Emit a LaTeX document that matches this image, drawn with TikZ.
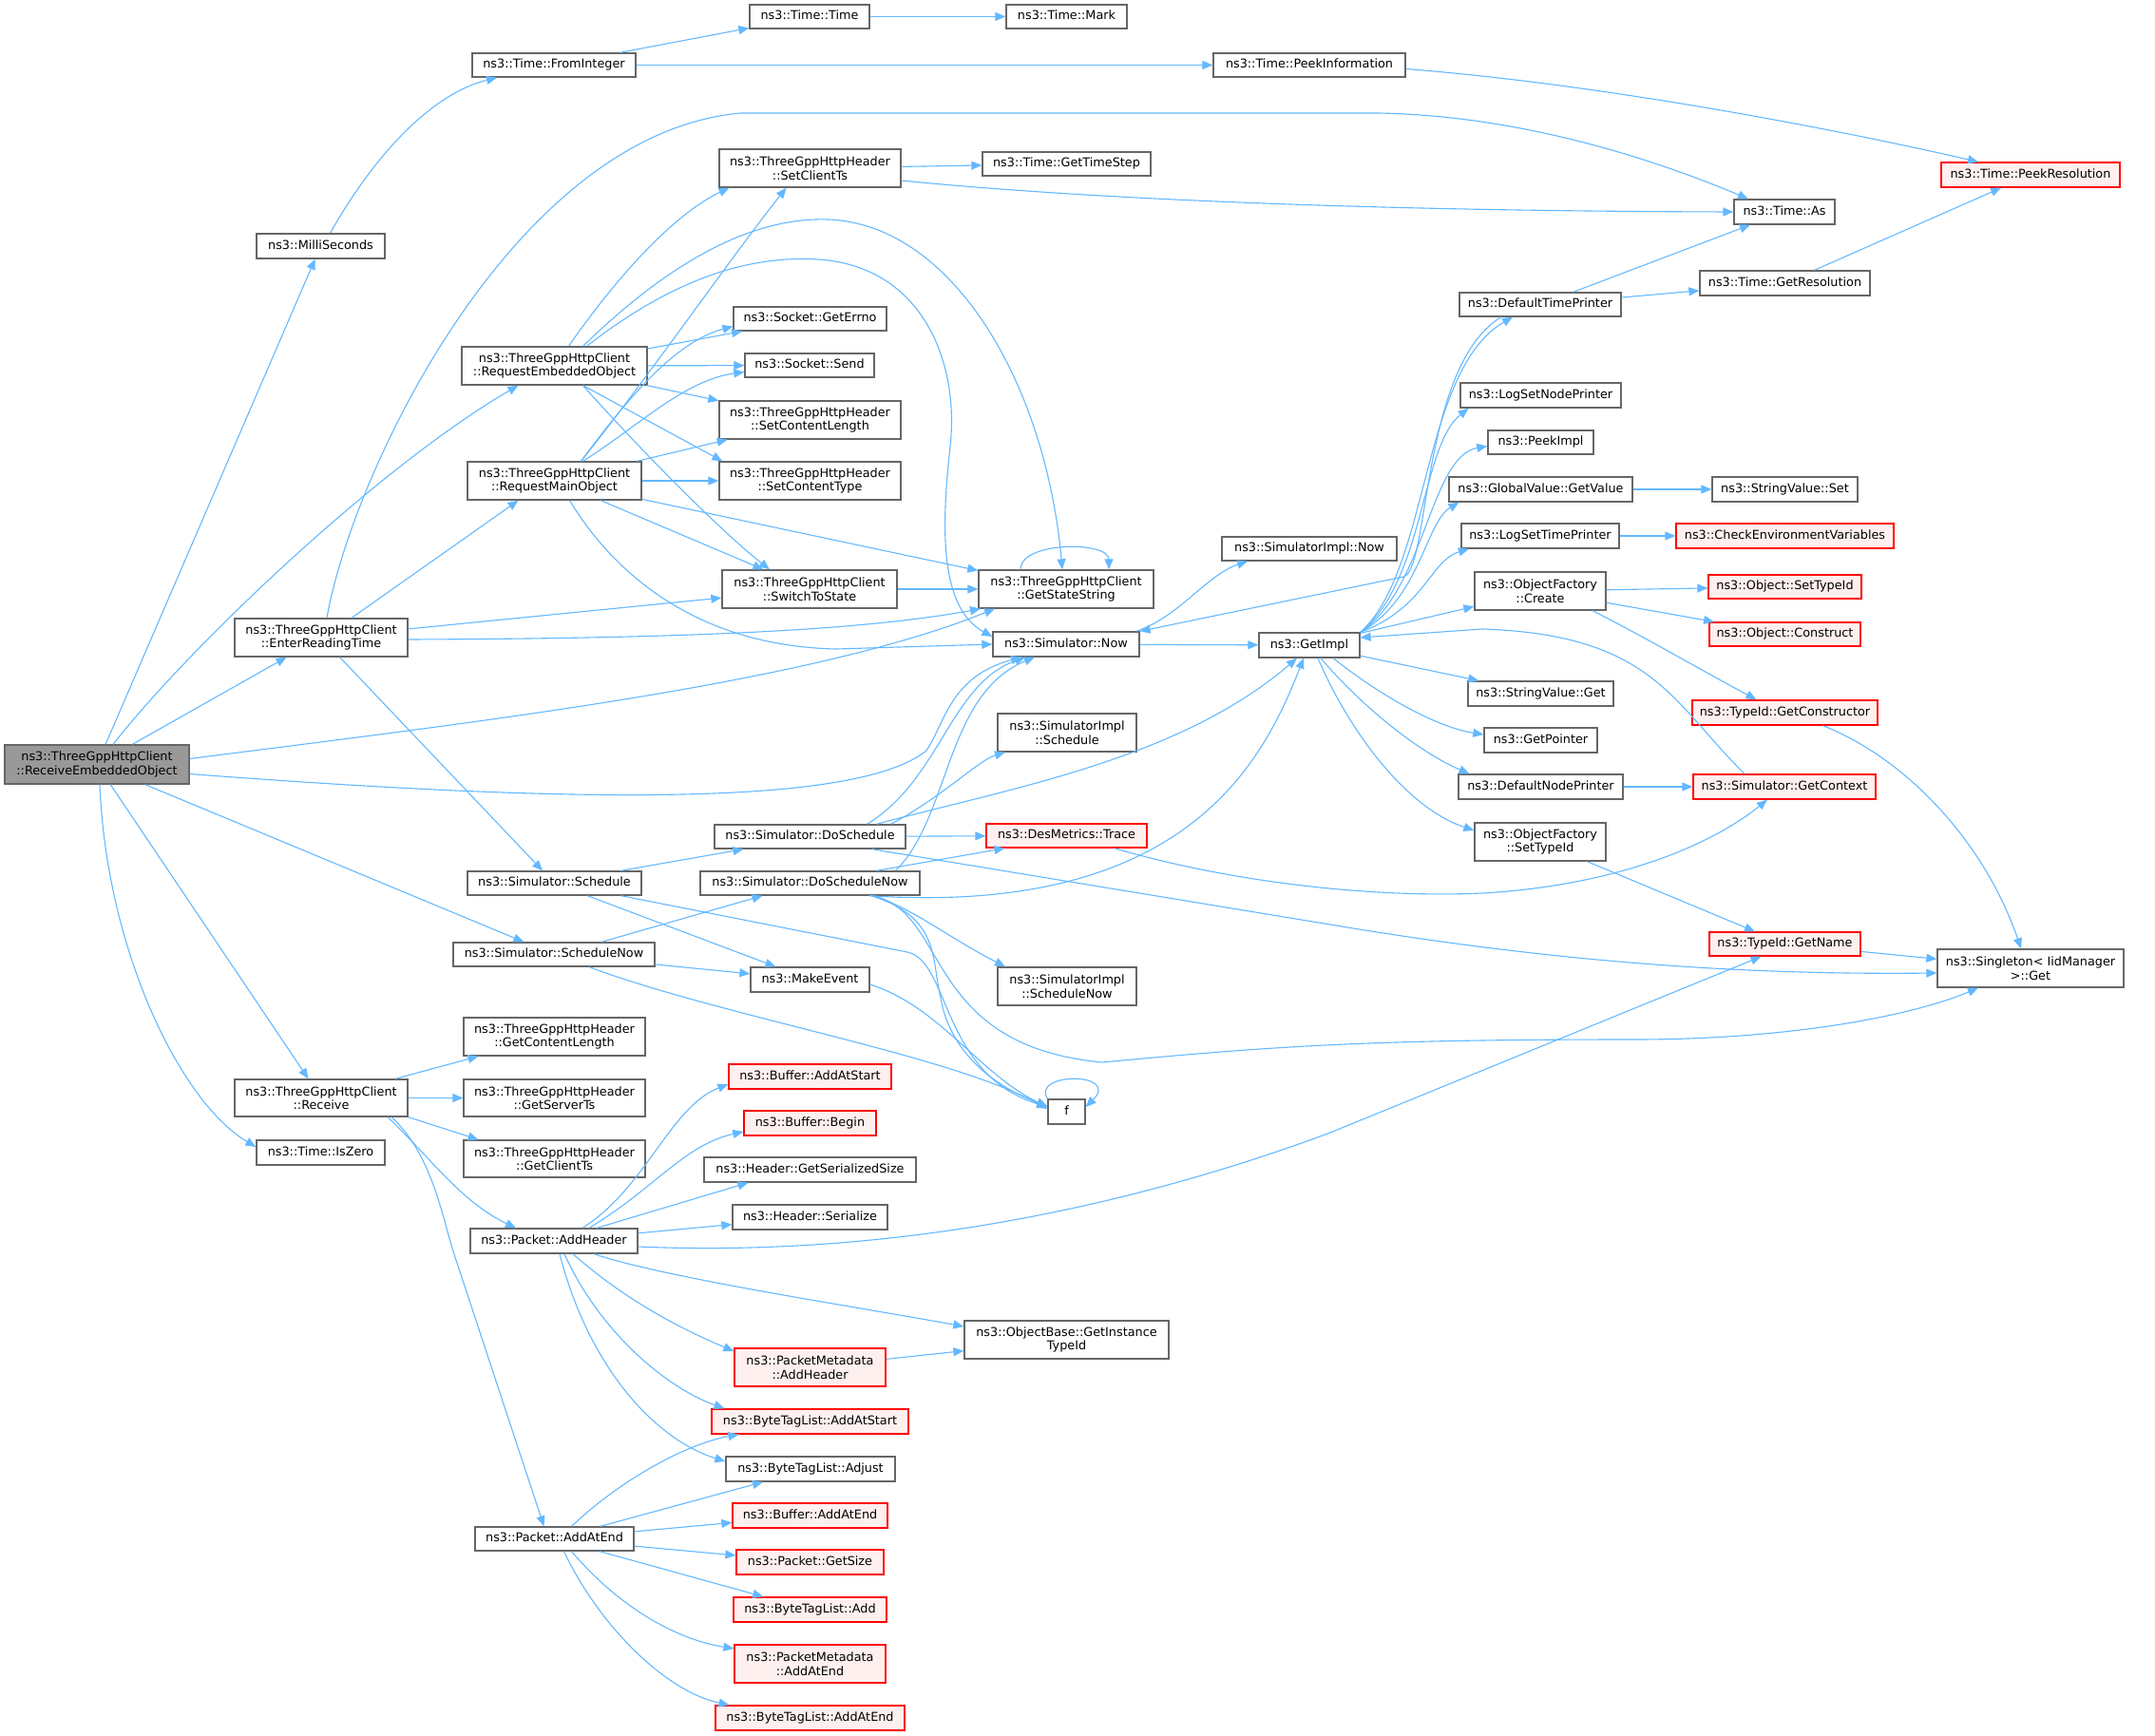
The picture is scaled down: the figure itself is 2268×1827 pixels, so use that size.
\documentclass[tikz,border=0pt]{standalone}
\usepackage{fontspec}
\setmainfont{DejaVu Sans}
\usetikzlibrary{arrows.meta}
\definecolor{edgeblue}{HTML}{63B8FF}
\definecolor{boxgray}{HTML}{666666}
\definecolor{rootfill}{HTML}{999999}
\definecolor{redfill}{HTML}{FFF0F0}
\definecolor{redline}{HTML}{FF0000}
\newcommand{\fs}{\fontsize{12.8}{14.5}\selectfont}
\newcommand{\mkbox}[7]{\node[#1,minimum width=#5pt,minimum height=#6pt] (#2) at (#3,#4) {#7};}
\tikzset{
 nd/.style={draw=boxgray, line width=1.3pt, fill=white, inner sep=0pt, font=\fs, text=black},
 rd/.style={nd, draw=redline, fill=redfill},
 rt/.style={nd, fill=rootfill},
 one/.style={text height=9.4pt, text depth=2.6pt},
 two/.style={align=center},
 edg/.style={draw=edgeblue, line width=1.1pt, -{Triangle[length=11pt,width=9pt]}}
}
\begin{document}
\begin{tikzpicture}[x=1pt,y=-1pt]
\useasboundingbox (0,0) rectangle (2268,1827);
% ---- nodes ----
\mkbox{rt,two}{recv}{102}{804.5}{194}{41}{ns3::ThreeGppHttpClient\\::ReceiveEmbeddedObject}
\mkbox{nd,one}{milli}{337.5}{259}{135}{26}{ns3::MilliSeconds}
\mkbox{nd,one}{fromint}{583}{68.5}{172}{25}{ns3::Time::FromInteger}
\mkbox{nd,one}{timetime}{852}{17.5}{126}{25}{ns3::Time::Time}
\mkbox{nd,one}{mark}{1122.5}{17.5}{127}{25}{ns3::Time::Mark}
\mkbox{nd,one}{peekinfo}{1378}{68.5}{202}{25}{ns3::Time::PeekInformation}
\mkbox{rd,one}{peekres}{2137}{184}{188}{26}{ns3::Time::PeekResolution}
\mkbox{nd,one}{timeas}{1878}{223}{106}{26}{ns3::Time::As}
\mkbox{nd,one}{getres}{1878.5}{298}{179}{26}{ns3::Time::GetResolution}
\mkbox{nd,two}{reqemb}{583.5}{385}{195}{40}{ns3::ThreeGppHttpClient\\::RequestEmbeddedObject}
\mkbox{nd,two}{reqmain}{583.5}{506}{183}{40}{ns3::ThreeGppHttpClient\\::RequestMainObject}
\mkbox{nd,two}{setclientts}{852.5}{177}{191}{40}{ns3::ThreeGppHttpHeader\\::SetClientTs}
\mkbox{nd,one}{gettimestep}{1122.5}{172.5}{177}{25}{ns3::Time::GetTimeStep}
\mkbox{nd,one}{geterrno}{852.5}{335.5}{161}{25}{ns3::Socket::GetErrno}
\mkbox{nd,one}{send}{852}{384.5}{136}{25}{ns3::Socket::Send}
\mkbox{nd,two}{setcontentlength}{852.5}{442}{191}{40}{ns3::ThreeGppHttpHeader\\::SetContentLength}
\mkbox{nd,two}{setcontenttype}{852.5}{506}{191}{40}{ns3::ThreeGppHttpHeader\\::SetContentType}
\mkbox{nd,two}{switchtostate}{852}{620}{184}{40}{ns3::ThreeGppHttpClient\\::SwitchToState}
\mkbox{nd,two}{getstatestring}{1122}{620}{184}{40}{ns3::ThreeGppHttpClient\\::GetStateString}
\mkbox{nd,one}{simimplnow}{1378}{577.5}{184}{25}{ns3::SimulatorImpl::Now}
\mkbox{nd,one}{simnow}{1122}{678}{154}{26}{ns3::Simulator::Now}
\mkbox{nd,one}{getimpl}{1378}{679}{106}{26}{ns3::GetImpl}
\mkbox{nd,one}{defaulttimeprinter}{1621}{320.5}{170}{25}{ns3::DefaultTimePrinter}
\mkbox{nd,one}{logsetnodeprinter}{1621.5}{416}{169}{26}{ns3::LogSetNodePrinter}
\mkbox{nd,one}{peekimpl}{1621.5}{465.5}{111}{25}{ns3::PeekImpl}
\mkbox{nd,one}{globalgetvalue}{1621.5}{515}{193}{26}{ns3::GlobalValue::GetValue}
\mkbox{nd,one}{stringvalueset}{1878.5}{515}{153}{26}{ns3::StringValue::Set}
\mkbox{nd,one}{logsettimeprinter}{1621}{564}{166}{26}{ns3::LogSetTimePrinter}
\mkbox{rd,one}{checkenv}{1878.5}{564}{229}{26}{ns3::CheckEnvironmentVariables}
\mkbox{nd,two}{ofcreate}{1621}{622}{138}{40}{ns3::ObjectFactory\\::Create}
\mkbox{rd,one}{objsettypeid}{1878.5}{617.5}{161}{25}{ns3::Object::SetTypeId}
\mkbox{rd,one}{objconstruct}{1878.5}{667.5}{159}{25}{ns3::Object::Construct}
\mkbox{nd,one}{stringvalueget}{1621.5}{730}{153}{26}{ns3::StringValue::Get}
\mkbox{nd,one}{getpointer}{1621.5}{779}{119}{26}{ns3::GetPointer}
\mkbox{rd,one}{getconstructor}{1878.5}{750}{195}{26}{ns3::TypeId::GetConstructor}
\mkbox{nd,one}{defaultnodeprinter}{1621.5}{828}{173}{26}{ns3::DefaultNodePrinter}
\mkbox{rd,one}{getcontext}{1878}{828}{192}{26}{ns3::Simulator::GetContext}
\mkbox{nd,two}{ofsettypeid}{1621}{886}{138}{40}{ns3::ObjectFactory\\::SetTypeId}
\mkbox{rd,one}{getname}{1878.5}{993.5}{159}{25}{ns3::TypeId::GetName}
\mkbox{nd,two}{singleton}{2137}{1019}{196}{40}{ns3::Singleton< IidManager\\ >::Get}
\mkbox{nd,two}{enterreading}{338}{671}{182}{40}{ns3::ThreeGppHttpClient\\::EnterReadingTime}
\mkbox{nd,one}{schedule}{583.5}{929.5}{183}{25}{ns3::Simulator::Schedule}
\mkbox{nd,one}{schedulenow}{583}{1004.5}{212}{25}{ns3::Simulator::ScheduleNow}
\mkbox{nd,two}{simimplschedule}{1123}{771}{146}{40}{ns3::SimulatorImpl\\::Schedule}
\mkbox{nd,one}{doschedule}{852.5}{880.5}{201}{25}{ns3::Simulator::DoSchedule}
\mkbox{rd,one}{trace}{1122.5}{879.5}{169}{25}{ns3::DesMetrics::Trace}
\mkbox{nd,one}{doschedulenow}{852.5}{929.5}{231}{25}{ns3::Simulator::DoScheduleNow}
\mkbox{nd,two}{simimplschedulenow}{1123}{1038}{146}{40}{ns3::SimulatorImpl\\::ScheduleNow}
\mkbox{nd,one}{makeevent}{852.5}{1031}{125}{26}{ns3::MakeEvent}
\mkbox{nd,one}{f}{1122.5}{1170}{39}{26}{f}
\mkbox{nd,two}{getcontentlength}{583.5}{1091}{191}{40}{ns3::ThreeGppHttpHeader\\::GetContentLength}
\mkbox{nd,two}{receive}{338}{1155.5}{182}{39}{ns3::ThreeGppHttpClient\\::Receive}
\mkbox{nd,two}{getserverts}{583.5}{1155.5}{191}{39}{ns3::ThreeGppHttpHeader\\::GetServerTs}
\mkbox{nd,two}{getclientts}{583.5}{1219.5}{191}{39}{ns3::ThreeGppHttpHeader\\::GetClientTs}
\mkbox{nd,one}{iszero}{337.5}{1213}{135}{26}{ns3::Time::IsZero}
\mkbox{nd,one}{addheader}{583}{1306}{176}{26}{ns3::Packet::AddHeader}
\mkbox{nd,one}{addatend}{583.5}{1619.5}{167}{25}{ns3::Packet::AddAtEnd}
\mkbox{rd,one}{bufaddatstart}{852.5}{1133}{171}{26}{ns3::Buffer::AddAtStart}
\mkbox{rd,one}{bufbegin}{852.5}{1182}{139}{26}{ns3::Buffer::Begin}
\mkbox{nd,one}{getserializedsize}{852.5}{1231}{223}{26}{ns3::Header::GetSerializedSize}
\mkbox{nd,one}{serialize}{852.5}{1281}{163}{26}{ns3::Header::Serialize}
\mkbox{nd,two}{getinstancetypeid}{1122.5}{1410}{215}{40}{ns3::ObjectBase::GetInstance\\TypeId}
\mkbox{rd,two}{pmaddheader}{852.5}{1439}{159}{40}{ns3::PacketMetadata\\::AddHeader}
\mkbox{rd,one}{btladdatstart}{852.5}{1496}{207}{26}{ns3::ByteTagList::AddAtStart}
\mkbox{nd,one}{btladjust}{853}{1546}{178}{26}{ns3::ByteTagList::Adjust}
\mkbox{rd,one}{bufaddatend}{852.5}{1595}{163}{26}{ns3::Buffer::AddAtEnd}
\mkbox{rd,one}{getsize}{852.5}{1644}{155}{26}{ns3::Packet::GetSize}
\mkbox{rd,one}{btladd}{852.5}{1694}{161}{26}{ns3::ByteTagList::Add}
\mkbox{rd,two}{pmaddatend}{852.5}{1751}{159}{40}{ns3::PacketMetadata\\::AddAtEnd}
\mkbox{rd,one}{btladdatend}{852.5}{1808}{199}{26}{ns3::ByteTagList::AddAtEnd}
% ---- edges ----
% root
\draw[edg] (recv) -- (milli);
\draw[edg] ([xshift=17pt]recv.north) .. controls (200,680) and (400,490) .. ([xshift=-38pt]reqemb.south);
\draw[edg] (recv) -- (enterreading);
\draw[edg] ([yshift=6pt]recv.east) .. controls (500,760) and (850,720) .. ([xshift=-75pt]getstatestring.south);
\draw[edg] ([yshift=-10pt]recv.east) .. controls (600,845) and (900,850) .. (975,790) .. controls (995,760) and (1000,712) .. ([xshift=-47pt]simnow.south);
\draw[edg] (recv) -- (schedulenow);
\draw[edg] (recv) -- (receive);
\draw[edg] ([xshift=3pt]recv.south) .. controls (112,1000) and (190,1160) .. ([yshift=6pt]iszero.west);
% time
\draw[edg] ([xshift=10pt]milli.north) .. controls (390,170) and (450,100) .. ([xshift=-60pt]fromint.south);
\draw[edg] (fromint) -- (timetime);
\draw[edg] (fromint) -- (peekinfo);
\draw[edg] (timetime) -- (mark);
\draw[edg] ([yshift=-4pt]peekinfo.east) .. controls (1700,90) and (1950,140) .. ([xshift=-55pt]peekres.north);
% enter reading time
\draw[edg] ([xshift=6pt]enterreading.north) .. controls (370,500) and (540,140) .. (780,119) -- (1450,119) .. controls (1620,122) and (1770,180) .. ([xshift=-38pt]timeas.north);
\draw[edg] ([xshift=32pt]enterreading.north) -- ([xshift=-38pt]reqmain.south);
\draw[edg] (enterreading) -- (switchtostate);
\draw[edg] ([yshift=-2pt]enterreading.east) .. controls (700,672) and (900,665) .. ([xshift=-90pt]getstatestring.south);
\draw[edg] (enterreading) -- (schedule);
% request embedded object
\draw[edg] ([xshift=15pt]reqemb.north) .. controls (650,290) and (710,225) .. ([xshift=-85pt]setclientts.south);
\draw[edg] ([xshift=30pt]reqemb.north) .. controls (690,290) and (780,228) .. (871,231) .. controls (1000,235) and (1100,400) .. ([xshift=-4pt]getstatestring.north);
\draw[edg] ([xshift=34pt]reqemb.north) .. controls (700,300) and (780,268) .. (861,273) .. controls (970,280) and (1010,380) .. (1000,470) .. controls (990,560) and (990,640) .. ([yshift=8pt]simnow.west);
\draw[edg] (reqemb) -- (geterrno);
\draw[edg] (reqemb) -- (send);
\draw[edg] (reqemb) -- (setcontentlength);
\draw[edg] ([xshift=30pt]reqemb.south) -- ([xshift=4pt]setcontenttype.north west);
\draw[edg] ([xshift=30pt]reqemb.south) .. controls (680,480) and (760,560) .. ([xshift=-42pt]switchtostate.north);
% request main object
\draw[edg] ([xshift=28pt]reqmain.north) .. controls (680,400) and (770,270) .. ([xshift=-25pt]setclientts.south);
\draw[edg] ([xshift=28pt]reqmain.north) .. controls (660,420) and (710,360) .. ([yshift=-8pt]geterrno.west);
\draw[edg] ([xshift=30pt]reqmain.north) .. controls (670,450) and (720,400) .. ([yshift=-7pt]send.west);
\draw[edg] (reqmain) -- (setcontentlength);
\draw[edg] (reqmain) -- (setcontenttype);
\draw[edg] (reqmain) -- (switchtostate);
\draw[edg] (reqmain) -- (getstatestring);
\draw[edg] ([xshift=16pt]reqmain.south) .. controls (650,610) and (740,680) .. (880,683) -- (simnow.west);
% headers / state
\draw[edg] (setclientts) -- (gettimestep);
\draw[edg] ([yshift=-13pt]setclientts.east) .. controls (1150,210) and (1450,222) .. (timeas.west);
\draw[edg] (switchtostate) -- (getstatestring);
\draw[edg] ([xshift=-48pt]getstatestring.north) .. controls +(0,-30) and +(0,-30) .. ([xshift=45pt]getstatestring.north);
% simulator now / getimpl
\draw[edg] (simnow) -- (getimpl);
\draw[edg] ([xshift=-4pt]simnow.north east) .. controls (1240,650) and (1270,605) .. ([xshift=-65pt]simimplnow.south);
\draw[edg] ([xshift=-41pt]defaulttimeprinter.south) .. controls (1495,385) and (1505,600) .. (1477,607) -- (simnow.north east);
\draw[edg] (defaulttimeprinter) -- (timeas);
\draw[edg] (defaulttimeprinter) -- (getres);
\draw[edg] (getres) -- (peekres);
\draw[edg] (getimpl.north east) .. controls (1505,600) and (1495,390) .. ([xshift=-29pt]defaulttimeprinter.south);
\draw[edg] (getimpl.north east) .. controls (1500,610) and (1495,470) .. ([xshift=-76pt]logsetnodeprinter.south);
\draw[edg] (getimpl.north east) .. controls (1500,620) and (1505,480) .. ([yshift=-4pt]peekimpl.west);
\draw[edg] (getimpl.north east) .. controls (1495,630) and (1500,550) .. ([xshift=-86pt]globalgetvalue.south);
\draw[edg] (getimpl.north east) .. controls (1500,640) and (1505,590) .. ([xshift=-75pt]logsettimeprinter.south);
\draw[edg] (getimpl) -- (ofcreate);
\draw[edg] (getimpl) -- (stringvalueget);
\draw[edg] ([xshift=25pt]getimpl.south) .. controls (1450,730) and (1510,765) .. ([yshift=6pt]getpointer.west);
\draw[edg] ([xshift=12pt]getimpl.south) .. controls (1430,740) and (1490,790) .. ([xshift=-75pt]defaultnodeprinter.north);
\draw[edg] ([xshift=9pt]getimpl.south) .. controls (1420,770) and (1480,850) .. ([yshift=12pt]ofsettypeid.west);
\draw[edg] (globalgetvalue) -- (stringvalueset);
\draw[edg] (logsettimeprinter) -- (checkenv);
\draw[edg] (ofcreate) -- (objsettypeid);
\draw[edg] (ofcreate) -- (objconstruct);
\draw[edg] ([xshift=55pt]ofcreate.south) .. controls (1730,670) and (1790,705) .. ([xshift=-30pt]getconstructor.north);
\draw[edg] ([xshift=40pt]getconstructor.south) .. controls (2010,800) and (2090,890) .. ([xshift=-10pt]singleton.north);
\draw[edg] (defaultnodeprinter) -- (getcontext);
\draw[edg] ([xshift=-42pt]getcontext.north) .. controls (1760,740) and (1740,668) .. (1560,662) -- ([yshift=8pt]getimpl.east);
\draw[edg] (ofsettypeid) -- (getname);
\draw[edg] (getname) -- (singleton);
% scheduling
\draw[edg] ([xshift=70pt]schedule.north) -- ([xshift=-70pt]doschedule.south);
\draw[edg] (schedule) -- (makeevent);
\draw[edg] ([xshift=70pt]schedule.south) -- (955,1002) .. controls (1000,1012) and (990,1130) .. ([yshift=5pt]f.west);
\draw[edg] ([xshift=50pt]schedulenow.north) -- ([xshift=-50pt]doschedulenow.south);
\draw[edg] (schedulenow) -- (makeevent);
\draw[edg] ([xshift=37pt]schedulenow.south) .. controls (760,1070) and (1000,1110) .. ([yshift=3pt]f.west);
\draw[edg] ([yshift=-5pt]makeevent.east) .. controls (990,1060) and (1030,1130) .. ([yshift=5pt]f.west);
\draw[edg] (f.north west) .. controls (1085,1128) and (1180,1128) .. ([yshift=5pt]f.east);
\draw[edg] ([xshift=60pt]doschedule.north) .. controls (990,820) and (1000,720) .. ([xshift=-43pt]simnow.south);
\draw[edg] ([xshift=85pt]doschedule.north) .. controls (990,840) and (1030,800) .. ([xshift=-65pt]simimplschedule.south);
\draw[edg] ([xshift=70pt]doschedule.north) .. controls (1060,830) and (1240,800) .. ([xshift=-13pt]getimpl.south);
\draw[edg] (doschedule) -- (trace);
\draw[edg] ([xshift=65pt]doschedule.south) -- (1400,973) .. controls (1650,1015) and (1850,1026) .. ([yshift=-5pt]singleton.west);
\draw[edg] ([xshift=90pt]doschedulenow.north) .. controls (1000,860) and (995,730) .. ([xshift=-33pt]simnow.south);
\draw[edg] ([xshift=70pt]doschedulenow.north) -- ([xshift=-65pt]trace.south);
\draw[edg] ([xshift=62pt]doschedulenow.south) .. controls (1250,965) and (1330,800) .. ([xshift=-6pt]getimpl.south);
\draw[edg] ([xshift=65pt]doschedulenow.south) .. controls (960,955) and (995,985) .. ([xshift=-65pt]simimplschedulenow.north);
\draw[edg] ([xshift=64pt]doschedulenow.south) .. controls (990,965) and (980,1010) .. (990,1050) .. controls (1000,1110) and (1050,1145) .. ([yshift=6pt]f.west);
\draw[edg] ([xshift=66pt]doschedulenow.south) .. controls (1000,960) and (970,1100) .. (1160,1118) .. controls (1350,1100) and (1450,1094) .. (1720,1094) .. controls (1880,1094) and (2010,1070) .. ([xshift=-55pt]singleton.south);
\draw[edg] ([xshift=50pt]trace.south) .. controls (1300,930) and (1450,945) .. (1560,940) .. controls (1700,932) and (1800,890) .. ([xshift=-18pt]getcontext.south);
% receive
\draw[edg] ([xshift=78pt]receive.north) -- ([xshift=-80pt]getcontentlength.south);
\draw[edg] (receive) -- (getserverts);
\draw[edg] (receive.south east) -- ([xshift=-80pt]getclientts.north);
\draw[edg] ([xshift=70pt]receive.south) .. controls (450,1215) and (485,1265) .. ([xshift=-40pt]addheader.north);
\draw[edg] ([xshift=74pt]receive.south) .. controls (455,1215) and (465,1280) .. (478,1320) -- ([xshift=-11pt]addatend.north);
% add header
\draw[edg] ([xshift=30pt]addheader.north) .. controls (680,1250) and (705,1165) .. ([yshift=-8pt]bufaddatstart.west);
\draw[edg] ([xshift=37pt]addheader.north) .. controls (690,1250) and (720,1205) .. ([yshift=-9pt]bufbegin.west);
\draw[edg] ([xshift=45pt]addheader.north) -- ([xshift=-65pt]getserializedsize.south);
\draw[edg] (addheader) -- (serialize);
\draw[edg] ([yshift=-6pt]addheader.east) .. controls (900,1322) and (1150,1285) .. (1400,1192) -- ([xshift=-25pt]getname.south);
\draw[edg] ([xshift=42pt]addheader.south) .. controls (700,1345) and (900,1375) .. ([yshift=14pt]getinstancetypeid.west);
\draw[edg] ([xshift=20pt]addheader.south) .. controls (660,1370) and (720,1400) .. ([yshift=17pt]pmaddheader.west);
\draw[edg] ([xshift=11pt]addheader.south) .. controls (630,1400) and (700,1460) .. ([xshift=-90pt]btladdatstart.north);
\draw[edg] ([xshift=6pt]addheader.south) .. controls (620,1440) and (690,1515) .. ([yshift=8pt]btladjust.west);
\draw[edg] (pmaddheader) -- (getinstancetypeid);
% add at end
\draw[edg] ([xshift=18pt]addatend.north) .. controls (650,1560) and (720,1520) .. ([xshift=-75pt]btladdatstart.south);
\draw[edg] (addatend) -- (btladjust);
\draw[edg] (addatend) -- (bufaddatend);
\draw[edg] (addatend) -- (getsize);
\draw[edg] (addatend) -- (btladd);
\draw[edg] ([xshift=18pt]addatend.south) .. controls (650,1690) and (710,1725) .. ([yshift=16pt]pmaddatend.west);
\draw[edg] ([xshift=10pt]addatend.south) .. controls (630,1710) and (700,1780) .. ([xshift=-85pt]btladdatend.north);
\end{tikzpicture}
\end{document}
